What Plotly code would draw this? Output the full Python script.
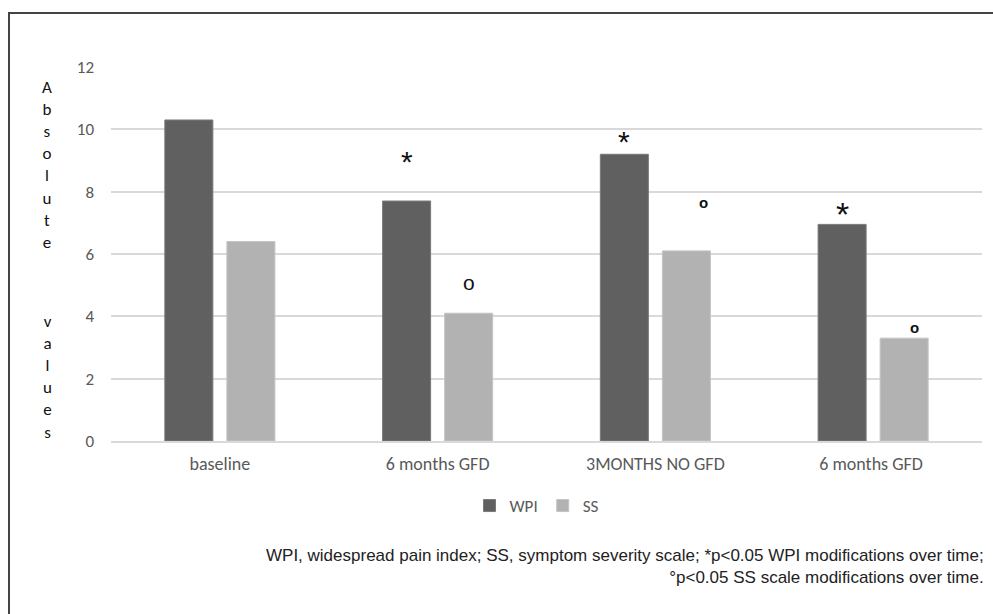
import plotly.graph_objects as go

categories = ["baseline", "6 months GFD", "3MONTHS NO GFD", "6 months GFD "]
wpi = [10.3, 7.7, 9.2, 6.95]
ss = [6.4, 4.1, 6.1, 3.3]
wpi_marks = ["", "*", "*", "*"]
ss_marks = ["", "o", "o", "o"]
y_ticks = [0, 2, 4, 6, 8, 10, 12]

# styling offsets for significance marks (in axis units above bar)
wpi_mark_off = [0, 1.27, 0.42, 0.33]
wpi_mark_size = [0, 30, 30, 34]
ss_mark_off = [0, 1.0, 1.55, 0.35]
ss_mark_size = [0, 21, 15, 15]
ss_mark_shift = [0, 0, 17, 10]

DARK = "#606060"
LIGHT = "#b2b2b2"
TXT = "#595959"
FONT = "Carlito, Lato, sans-serif"

L, R, T, B = 111, 11, 67, 173
W, H = 993, 614
pw, ph = W - L - R, H - T - B

def px(x):
    return (x - L) / pw

def py(y):
    return (H - B - y) / ph

fig = go.Figure()
fig.add_trace(go.Bar(x=categories, y=wpi, name="WPI", marker=dict(color=DARK, line=dict(color="#7a7a7a", width=1))))
fig.add_trace(go.Bar(x=categories, y=ss, name="SS", marker=dict(color=LIGHT, line=dict(color="#c4c4c4", width=1))))

ann = []
for i, c in enumerate(categories):
    if wpi_marks[i]:
        ann.append(dict(x=c, y=wpi[i] + wpi_mark_off[i], xref="x", yref="y", text=wpi_marks[i],
                        showarrow=False, xshift=-31, xanchor="center", yanchor="middle",
                        font=dict(size=wpi_mark_size[i], color="#111", family="Liberation Sans, Arial")))
    if ss_marks[i]:
        ann.append(dict(x=c, y=ss[i] + ss_mark_off[i], xref="x", yref="y", text=ss_marks[i],
                        showarrow=False, xshift=31 + ss_mark_shift[i], xanchor="center", yanchor="middle",
                        font=dict(size=ss_mark_size[i], color="#111", family="Liberation Sans, Arial",
                                  weight="bold" if i > 1 else "normal")))

ann.append(dict(x=px(47), y=py(165), xref="paper", yref="paper", showarrow=False, xanchor="center", yanchor="middle",
                text="<br>".join(list("Absolute")), font=dict(size=17, color="#111", family=FONT)))
ann.append(dict(x=px(47), y=py(377), xref="paper", yref="paper", showarrow=False, xanchor="center", yanchor="middle",
                text="<br>".join(list("values")), font=dict(size=17, color="#111", family=FONT)))
ann.append(dict(x=px(986), y=py(566), xref="paper", yref="paper", showarrow=False, xanchor="right", yanchor="middle",
                align="right",
                text="WPI, widespread pain index; SS, symptom severity scale; *p<0.05 WPI modifications over time;<br>°p<0.05 SS scale modifications over time.",
                font=dict(size=17, color="#222", family="Liberation Sans, Arial, sans-serif")))

fig.update_layout(
    width=W, height=H,
    margin=dict(l=L, r=R, t=T, b=B),
    paper_bgcolor="white", plot_bgcolor="white",
    barmode="group", bargap=0.43, bargroupgap=0.226,
    font=dict(family=FONT, size=16, color=TXT),
    showlegend=True,
    legend=dict(orientation="h", x=px(537), xanchor="center", y=py(506), yanchor="middle",
                font=dict(size=17, color=TXT), itemwidth=30, traceorder="normal"),
    annotations=ann,
    shapes=[dict(type="rect", xref="paper", yref="paper", x0=px(9), x1=px(1010), y0=py(640), y1=py(13),
                 line=dict(color="#444", width=2), fillcolor="rgba(0,0,0,0)", layer="above")],
)
fig.update_xaxes(showgrid=False, showline=True, linecolor="#d9d9d9", linewidth=1.5, ticks="",
                 tickfont=dict(size=18, color=TXT), ticklabelstandoff=6)
fig.update_yaxes(range=[0, 12], tickvals=y_ticks, showgrid=True, gridcolor="#d9d9d9", gridwidth=1.5,
                 zeroline=False, showline=False, ticks="", tickfont=dict(size=17, color=TXT), ticklabelstandoff=16)

fig.write_html("out.html", config={"displayModeBar": False},
               post_script="document.body.style.margin='0';document.body.style.overflow='hidden';")
